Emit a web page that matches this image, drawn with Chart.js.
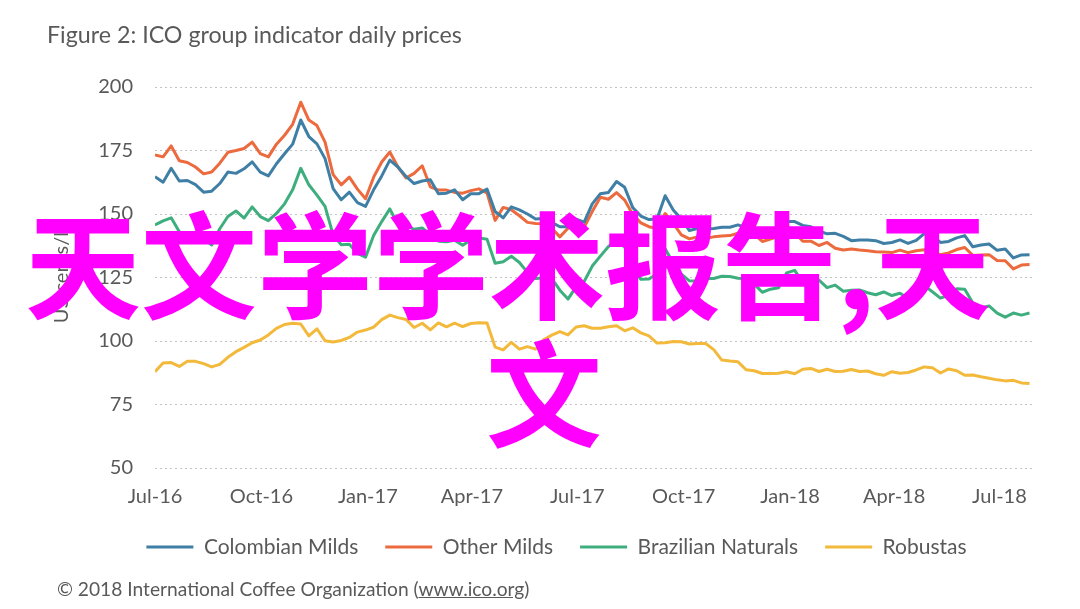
<!DOCTYPE html>
<html><head><meta charset="utf-8">
<script src="https://cdn.jsdelivr.net/npm/chart.js@4.4.0/dist/chart.umd.min.js"></script>
<style>
html,body{margin:0;padding:0;background:#fff;}
#wrap{position:relative;width:1080px;height:609px;overflow:hidden;background:#fff;}
#c{position:absolute;left:0;top:0;}
.txt{position:absolute;font-family:Lato,"Open Sans",sans-serif;color:#595959;white-space:nowrap;line-height:1;}
#ytitle{position:absolute;left:60px;top:272px;transform:translate(-50%,-50%) rotate(-90deg);font-family:Lato,sans-serif;font-size:20px;color:#595959;white-space:nowrap;line-height:1;}
.wm{position:absolute;font-family:"Noto Sans CJK SC",sans-serif;font-weight:700;font-size:116px;color:#ff00ff;line-height:1;white-space:nowrap;}
</style></head>
<body><div id="wrap">
<canvas id="c" width="1080" height="609"></canvas>
<div id="title" class="txt">Figure 2: ICO group indicator daily prices</div>
<div id="ytitle">US cents/lb</div>
<div id="footer" class="txt">© 2018 International Coffee Organization (<u>www.ico.org</u>)</div>
<div id="wm1" class="wm">天文学学术报告,天</div>
<div id="wm2" class="wm">文</div>
</div>
<script>
// x positions: one value per week starting 1 Jul 2016 (day offsets = week index * 7)
const tickDays = [0, 92, 184, 274, 365, 457, 549, 639, 730];
const tickLabels = ['Jul-16','Oct-16','Jan-17','Apr-17','Jul-17','Oct-17','Jan-18','Apr-18','Jul-18'];
const seriesNames = ['Colombian Milds','Other Milds','Brazilian Naturals','Robustas'];
const seriesColors = ['#3f7fa6','#ec6a3e','#3fae7e','#f2b93b'];

const colombianMilds = [164.7,162.5,168.0,163.0,163.2,161.6,158.6,159.0,162.0,166.5,
 166.0,167.8,170.5,166.5,165.0,169.8,173.7,177.5,187.0,180.5,
 177.6,171.8,160.0,155.6,158.6,154.5,153.0,159.5,165.0,171.2,
 168.5,164.8,162.0,163.0,163.5,158.0,158.2,159.5,155.6,158.0,
 158.0,159.8,151.0,148.5,152.8,151.6,150.0,148.0,148.2,146.7,
 145.0,145.0,148.0,146.8,154.0,158.0,158.5,162.8,160.5,152.5,
 149.2,147.8,148.0,157.2,151.6,148.0,143.5,144.3,144.0,144.3,
 144.8,144.8,145.7,144.6,145.0,141.6,143.0,145.2,147.0,147.0,
 145.5,145.0,143.3,142.2,142.4,141.2,139.5,139.8,139.8,139.5,
 138.4,138.8,139.8,138.4,139.6,142.3,141.4,138.8,139.2,140.6,
 141.5,137.1,137.8,138.2,135.7,136.2,132.7,133.9,134.0];

const otherMilds = [173.2,172.5,176.8,171.0,170.3,168.5,165.8,166.5,170.0,174.3,
 175.0,175.8,178.3,173.8,172.5,177.5,181.0,185.3,194.0,187.0,
 184.8,178.3,165.5,161.5,164.5,159.8,156.0,164.5,170.5,174.4,
 168.5,164.2,166.0,169.0,160.7,159.4,159.4,158.5,158.2,159.2,
 159.9,158.3,147.5,152.6,151.7,149.3,146.7,146.3,146.2,144.4,
 141.0,144.4,147.0,144.8,151.0,156.6,155.8,158.4,155.5,149.8,
 146.5,145.0,144.3,150.2,146.3,141.8,140.2,141.0,140.4,141.0,
 141.3,141.5,142.4,141.4,142.0,139.2,140.1,141.2,143.3,142.6,
 139.3,139.3,137.6,138.8,136.5,135.8,136.2,135.8,135.5,135.1,
 135.0,134.8,135.8,134.8,135.5,135.9,135.2,134.0,134.7,136.0,
 136.8,133.7,133.9,134.0,131.7,131.6,128.4,129.9,130.1];

const brazilianNaturals = [145.7,147.3,148.5,143.0,140.6,141.9,140.5,137.8,144.2,149.0,
 151.2,148.4,152.8,149.0,147.4,150.2,154.0,159.5,168.0,161.5,
 157.4,153.0,141.8,137.9,138.1,134.5,133.0,141.5,147.0,152.0,
 145.8,145.5,144.0,144.5,141.8,139.3,139.1,139.7,137.7,139.8,
 140.6,140.1,130.6,131.2,133.4,130.9,127.0,124.6,124.8,124.6,
 120.0,116.5,121.3,123.4,129.5,133.4,137.2,139.5,137.0,128.5,
 124.3,124.4,126.5,136.3,130.6,126.3,123.7,123.5,124.6,124.6,
 125.5,125.4,124.7,124.5,122.4,119.2,120.4,121.0,126.8,127.8,
 123.0,122.0,124.0,121.0,122.0,119.6,120.0,120.1,119.0,118.2,
 119.3,117.9,118.8,116.8,118.6,121.8,119.4,116.9,118.0,120.6,
 120.4,115.0,113.0,113.8,111.0,109.4,111.0,110.2,111.0];

const robustas = [87.9,91.3,91.5,90.0,92.0,92.0,91.1,89.8,90.8,93.6,
 95.8,97.5,99.3,100.4,102.4,105.0,106.5,107.0,106.7,102.0,
 104.8,100.1,99.6,100.2,101.4,103.5,104.3,105.5,108.4,110.2,
 109.2,108.5,105.3,107.0,104.4,107.1,105.6,107.0,105.7,106.9,
 107.2,107.1,97.6,96.5,99.5,96.8,97.8,96.8,100.5,102.3,
 103.7,102.4,105.5,106.0,105.0,105.0,105.6,106.0,104.0,105.2,
 103.2,102.0,99.2,99.3,99.8,99.7,98.8,99.0,99.0,96.6,
 92.5,92.1,91.8,88.7,88.3,87.2,87.2,87.3,87.9,87.1,
 88.9,89.2,88.0,88.9,88.0,88.1,88.8,88.0,88.2,87.1,
 86.5,87.9,87.3,87.6,88.6,89.8,89.5,87.4,89.0,88.3,
 86.5,86.6,85.9,85.3,84.7,84.3,84.5,83.5,83.3];

const DAYS_PER_POINT = 7;
const allSeries = [colombianMilds, otherMilds, brazilianNaturals, robustas];

function placeText(id, left, baseline, targetWidth, ascentRatio){
  const el = document.getElementById(id);
  const cs = parseFloat(getComputedStyle(el).fontSize);
  if (targetWidth){
    const w = el.getBoundingClientRect().width;
    el.style.fontSize = (cs * targetWidth / w) + 'px';
  }
  const fs = parseFloat(el.style.fontSize || cs);
  el.style.left = left + 'px';
  el.style.top = (baseline - ascentRatio * fs) + 'px';
}
placeText('title', 47, 43.5, 415, 0.887);
placeText('footer', 57, 596, 473, 0.887);
placeText('wm1', 25, 310, null, 0.936);
placeText('wm2', 486, 438, null, 0.936);

Chart.defaults.font.family = 'Lato, "Open Sans", sans-serif';
Chart.defaults.color = '#595959';

const datasets = allSeries.map((arr, s) => ({
  label: seriesNames[s],
  data: arr.map((v, i) => ({x: i * DAYS_PER_POINT, y: v})),
  borderColor: seriesColors[s],
  backgroundColor: seriesColors[s],
  borderWidth: 3,
  pointRadius: 0,
  tension: 0,
  fill: false,
  borderJoinStyle: 'round'
}));

new Chart(document.getElementById('c'), {
  type: 'line',
  data: { datasets },
  options: {
    responsive: false,
    animation: false,
    devicePixelRatio: 1,
    layout: { padding: { left: 80, right: 47, top: 87, bottom: 41.5 } },
    plugins: {
      tooltip: { enabled: false },
      legend: {
        position: 'bottom',
        labels: {
          boxWidth: 47, boxHeight: 3, padding: 27,
          font: { size: 21 }, color: '#595959',
          generateLabels: (chart) => Chart.defaults.plugins.legend.labels.generateLabels(chart)
            .map(l => Object.assign(l, { lineWidth: 0, fillStyle: l.strokeStyle }))
        }
      }
    },
    scales: {
      x: {
        type: 'linear', min: 0, max: 759,
        grid: { display: false, drawTicks: false },
        border: { display: false },
        afterBuildTicks: (s) => { s.ticks = tickDays.map(v => ({ value: v })); },
        ticks: {
          autoSkip: false, maxRotation: 0, padding: 19,
          font: { size: 20, lineHeight: 1 }, color: '#595959',
          callback: (v, i) => tickLabels[i]
        },
        afterFit: (s) => { s.height = 41.5; }
      },
      y: {
        min: 50, max: 200,
        ticks: { stepSize: 25, padding: 22, font: { size: 20 }, color: '#595959' },
        grid: { color: '#c4c4c4', lineWidth: 1, drawTicks: false },
        border: { display: false, dash: [2, 3] },
        afterFit: (s) => { s.width = 75; }
      }
    }
  }
});
</script>
</body></html>
